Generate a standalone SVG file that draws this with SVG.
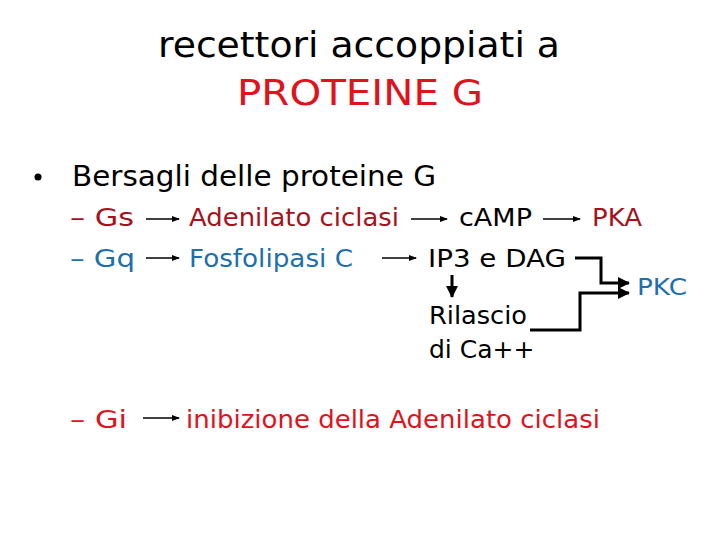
<svg xmlns="http://www.w3.org/2000/svg" width="720" height="540" viewBox="0 0 720 540">
<style>
text{font-family:"DejaVu Sans","Liberation Sans",sans-serif;}
.t{font-size:36px;fill:#000;}
.red{fill:#e0121c;}
.dred{fill:#a5121c;}
.blue{fill:#1e6fae;}
.blk{fill:#000;}
.b{font-size:29px;}
.r{font-size:25px;}
.s{stroke:#000;stroke-width:1.6;fill:none;}
.th{stroke:#000;stroke-width:3;fill:none;}
</style>
<defs>
<marker id="ah" markerWidth="8" markerHeight="8" refX="7" refY="4" orient="auto" markerUnits="userSpaceOnUse">
<path d="M0,1 L8,4 L0,7 Z" fill="#000"/>
</marker>
<marker id="ahb" markerWidth="12" markerHeight="12" refX="11" refY="6" orient="auto" markerUnits="userSpaceOnUse">
<path d="M0,0 L12,6 L0,12 Z" fill="#000"/>
</marker>
</defs>
<rect width="720" height="540" fill="#fff"/>
<g id="title">
<text class="t" x="158" y="57" textLength="402" lengthAdjust="spacingAndGlyphs">recettori accoppiati a</text>
<text class="t red" x="237" y="105" textLength="246" lengthAdjust="spacingAndGlyphs">PROTEINE G</text>
</g>
<g id="bullet">
<circle cx="38" cy="177" r="3.5" fill="#000"/>
<text class="b blk" x="72" y="186" textLength="364" lengthAdjust="spacingAndGlyphs">Bersagli delle proteine G</text>
</g>
<g id="gs"><text class="r dred" x="70" y="226" textLength="64" lengthAdjust="spacingAndGlyphs">– Gs</text></g>
<g id="adenilato"><text class="r dred" x="189" y="226" textLength="210" lengthAdjust="spacingAndGlyphs">Adenilato ciclasi</text></g>
<g id="camp"><text class="r blk" x="459" y="226" textLength="73" lengthAdjust="spacingAndGlyphs">cAMP</text></g>
<g id="pka"><text class="r dred" x="592" y="226" textLength="50" lengthAdjust="spacingAndGlyphs">PKA</text></g>
<g id="gq"><text class="r blue" x="70" y="267" textLength="65" lengthAdjust="spacingAndGlyphs">– Gq</text></g>
<g id="fosfolipasi"><text class="r blue" x="189" y="267" textLength="164" lengthAdjust="spacingAndGlyphs">Fosfolipasi C</text></g>
<g id="ip3"><text class="r blk" x="428" y="267" textLength="138" lengthAdjust="spacingAndGlyphs">IP3 e DAG</text></g>
<g id="rilascio">
<text class="r blk" x="429" y="324" textLength="98" lengthAdjust="spacingAndGlyphs">Rilascio</text>
<text class="r blk" x="429" y="358">di Ca++</text>
</g>
<g id="pkc"><text class="blue" style="font-size:23px" x="637" y="295" textLength="50" lengthAdjust="spacingAndGlyphs">PKC</text></g>
<g id="gi"><text class="r red" x="70" y="428" textLength="57" lengthAdjust="spacingAndGlyphs">– Gi</text></g>
<g id="inibizione"><text class="r red" x="186" y="428" textLength="414" lengthAdjust="spacingAndGlyphs">inibizione della Adenilato ciclasi</text></g>
<g id="connectors">
<line class="s" x1="146" y1="219" x2="179" y2="219" marker-end="url(#ah)"/>
<line class="s" x1="411" y1="219" x2="447" y2="219" marker-end="url(#ah)"/>
<line class="s" x1="543" y1="219" x2="580" y2="219" marker-end="url(#ah)"/>
<line class="s" x1="146" y1="258" x2="179" y2="258" marker-end="url(#ah)"/>
<line class="s" x1="382" y1="258" x2="416" y2="258" marker-end="url(#ah)"/>
<line class="s" x1="143" y1="418" x2="179" y2="418" marker-end="url(#ah)"/>
<line class="th" x1="452" y1="275" x2="452" y2="297" marker-end="url(#ahb)"/>
<polyline class="th" points="575,258 601,258 601,283 629,283" marker-end="url(#ahb)"/>
<polyline class="th" points="530,330 580,330 580,293 629,293" marker-end="url(#ahb)"/>
</g>
</svg>
